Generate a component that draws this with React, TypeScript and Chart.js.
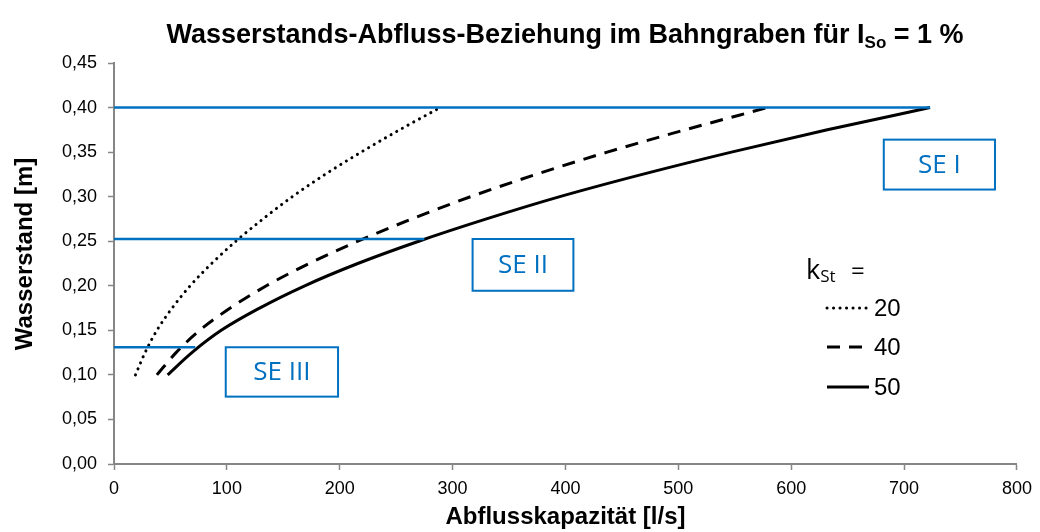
import React, { useEffect, useRef } from "react";
import { Chart, registerables } from "chart.js";

Chart.register(...registerables);

// Water level h [m] and discharge capacity Q [l/s] for each Strickler value
const waterLevels = [0.1, 0.125, 0.15, 0.175, 0.2, 0.225, 0.25, 0.275, 0.3, 0.325, 0.35, 0.375, 0.4];
const flowK20 = [19, 27.5, 38, 51.5, 67.5, 86.5, 108, 132, 158, 187, 219, 253, 289];
const flowK40 = [38, 55, 76, 103, 135, 173, 216, 264, 316, 374, 437, 506, 579];
const flowK50 = [47.5, 69, 95, 129, 169, 216, 270, 330, 395, 468, 547, 632, 723];
const kLabels = ["20", "40", "50"];

// Stage limits (SE I .. SE III): level and discharge where the line ends
const seLabels = ["SE I", "SE II", "SE III"];
const seLevels = [0.4, 0.2525, 0.131];
const seLineEnds = [723, 275, 72];

const xMin = 0;
const xMax = 800;
const xStep = 100;
const yMin = 0;
const yMax = 0.45;
const yStep = 0.05;

const BLUE = "#0070C0";
const AXIS = "#868686";

const titleMain = "Wasserstands-Abfluss-Beziehung im Bahngraben für I";
const titleSub = "So";
const titleEnd = " = 1 %";
const xTitle = "Abflusskapazität [l/s]";
const yTitle = "Wasserstand [m]";

export default function App() {
  const ref = useRef<HTMLCanvasElement | null>(null);

  useEffect(() => {
    document.body.style.margin = "0";
    const canvas = ref.current;
    if (!canvas) return;

    const curveStyles = [
      { dash: [0.1, 6.4], cap: "round", width: 3 },
      { dash: [13, 9], cap: "butt", width: 3 },
      { dash: [], cap: "butt", width: 3 },
    ];
    const flows = [flowK20, flowK40, flowK50];

    const seDatasets = seLevels.map((lvl, i) => ({
      label: seLabels[i],
      data: [
        { x: 0, y: lvl },
        { x: seLineEnds[i], y: lvl },
      ],
      borderColor: BLUE,
      borderWidth: 2.5,
      pointRadius: 0,
      fill: false,
    }));

    const curveDatasets = flows.map((fl, i) => ({
      label: "k" + kLabels[i],
      data: fl.map((q, j) => ({ x: q, y: waterLevels[j] })),
      borderColor: "#000000",
      borderWidth: curveStyles[i].width,
      borderDash: curveStyles[i].dash,
      borderCapStyle: curveStyles[i].cap,
      cubicInterpolationMode: "monotone",
      pointRadius: 0,
      fill: false,
    }));

    // boxes in data coordinates
    const boxes = [
      { text: seLabels[0], x0: 682, x1: 780.5, y0: 0.364, y1: 0.308 },
      { text: seLabels[1], x0: 317.7, x1: 407, y0: 0.2525, y1: 0.1944 },
      { text: seLabels[2], x0: 99, x1: 198.5, y0: 0.131, y1: 0.0756 },
    ];

    const decor = {
      id: "decor",
      afterDraw(chart: any) {
        const ctx = chart.ctx as CanvasRenderingContext2D;
        const xs = chart.scales.x;
        const ys = chart.scales.y;
        ctx.save();
        // SE boxes
        boxes.forEach((b) => {
          const l = xs.getPixelForValue(b.x0);
          const r = xs.getPixelForValue(b.x1);
          const t = ys.getPixelForValue(b.y0);
          const bt = ys.getPixelForValue(b.y1);
          ctx.fillStyle = "#ffffff";
          ctx.fillRect(l, t, r - l, bt - t);
          ctx.strokeStyle = BLUE;
          ctx.lineWidth = 2;
          ctx.setLineDash([]);
          ctx.strokeRect(l, t, r - l, bt - t);
          ctx.fillStyle = BLUE;
          ctx.font = "26px 'Open Sans'";
          ctx.textAlign = "center";
          ctx.textBaseline = "middle";
          ctx.fillText(b.text, (l + r) / 2, (t + bt) / 2 + 1);
        });

        // legend
        ctx.fillStyle = "#000";
        ctx.textAlign = "left";
        ctx.textBaseline = "alphabetic";
        ctx.font = "27px 'Open Sans'";
        ctx.fillText("k", 806, 279);
        const kw = ctx.measureText("k").width;
        ctx.font = "17px 'Open Sans'";
        ctx.fillText("St", 806 + kw, 282);
        ctx.font = "24px 'Open Sans'";
        ctx.fillText("=", 851, 279);
        const legY = [308, 347, 387];
        kLabels.forEach((k, i) => {
          const s = curveStyles[i];
          ctx.beginPath();
          ctx.strokeStyle = "#000";
          ctx.lineWidth = s.width;
          ctx.setLineDash(s.dash);
          ctx.lineCap = s.cap as CanvasLineCap;
          ctx.moveTo(827, legY[i]);
          ctx.lineTo(869, legY[i]);
          ctx.stroke();
          ctx.setLineDash([]);
          ctx.lineCap = "butt";
          ctx.font = "24px 'Liberation Sans'";
          ctx.textBaseline = "middle";
          ctx.fillText(k, 874, legY[i] + 1);
        });

        // title
        ctx.textBaseline = "alphabetic";
        const mainFont = "bold 27px 'Liberation Sans'";
        const subFont = "bold 17px 'Liberation Sans'";
        ctx.font = mainFont;
        const w1 = ctx.measureText(titleMain).width;
        const w3 = ctx.measureText(titleEnd).width;
        ctx.font = subFont;
        const w2 = ctx.measureText(titleSub).width;
        const total = w1 + w2 + w3;
        let tx = 565 - total / 2;
        const ty = 43;
        ctx.font = mainFont;
        ctx.fillText(titleMain, tx, ty);
        tx += w1;
        ctx.font = subFont;
        ctx.fillText(titleSub, tx, ty + 5);
        tx += w2;
        ctx.font = mainFont;
        ctx.fillText(titleEnd, tx, ty);

        // axis titles
        ctx.font = "bold 24px 'Liberation Sans'";
        ctx.textAlign = "center";
        ctx.textBaseline = "middle";
        ctx.fillText(xTitle, (xs.left + xs.right) / 2, 517);
        ctx.translate(25, 254);
        ctx.rotate(-Math.PI / 2);
        ctx.fillText(yTitle, 0, 0);
        ctx.restore();
      },
    };

    const chart = new Chart(canvas, {
      type: "line",
      data: { datasets: [...seDatasets, ...curveDatasets] as any },
      options: {
        responsive: false,
        animation: false,
        layout: { padding: { left: 0, right: 22, top: 63, bottom: 0 } },
        plugins: {
          legend: { display: false },
          title: { display: false },
          tooltip: { enabled: false },
        },
        scales: {
          x: {
            type: "linear",
            min: xMin,
            max: xMax,
            ticks: {
              stepSize: xStep,
              color: "#000",
              font: { family: "'Liberation Sans'", size: 18 },
              padding: 8,
              maxRotation: 0,
            },
            grid: {
              drawOnChartArea: false,
              drawTicks: true,
              tickLength: 6,
              tickColor: AXIS,
              tickWidth: 1.5,
            },
            border: { display: true, color: AXIS, width: 2 },
            afterFit: (s: any) => {
              s.height = 68;
            },
          },
          y: {
            type: "linear",
            min: yMin,
            max: yMax,
            ticks: {
              stepSize: yStep,
              color: "#000",
              font: { family: "'Liberation Sans'", size: 18 },
              padding: 11,
              callback: (v: any) => Number(v).toFixed(2).replace(".", ","),
            },
            grid: {
              drawOnChartArea: false,
              drawTicks: true,
              tickLength: 6,
              tickColor: AXIS,
              tickWidth: 1.5,
            },
            border: { display: true, color: AXIS, width: 2 },
            afterFit: (s: any) => {
              s.width = 114;
            },
          },
        },
      },
      plugins: [decor],
    });

    return () => chart.destroy();
  }, []);

  return (
    <div style={{ width: 1040, height: 532, position: "relative" }}>
      <canvas ref={ref} width={1040} height={532} style={{ display: "block" }} />
    </div>
  );
}
